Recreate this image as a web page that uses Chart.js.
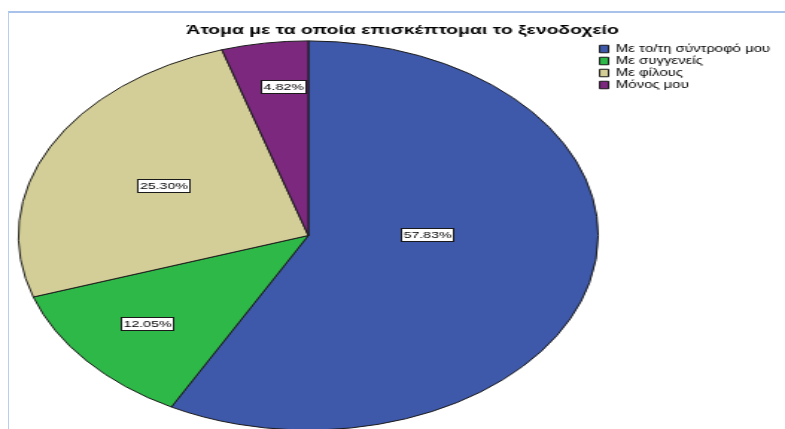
<!DOCTYPE html>
<html lang="el">
<head>
<meta charset="utf-8">
<title>Άτομα με τα οποία επισκέπτομαι το ξενοδοχείο</title>
<script src="https://cdn.jsdelivr.net/npm/chart.js@4/dist/chart.umd.min.js"></script>
<style>
  html, body { margin: 0; padding: 0; background: #ffffff; }
  #stage { position: relative; width: 785px; height: 429px; overflow: hidden; background: #ffffff; }
  /* viewer frame: thin blue rule along the top and the left side */
  #frame {
    position: absolute; left: 8px; top: 11px; right: 0; bottom: 0;
    border-top: 2px solid #a9c2ea; border-left: 1px solid #b9cdee;
  }
  /* the chart is laid out on a 527-unit wide canvas and widened to the page width */
  #chart { position: absolute; left: 0; top: 0; width: 785px; height: 429px; }
</style>
</head>
<body>
<div id="stage">
  <div id="frame"></div>
  <canvas id="chart" width="527" height="429" style="width:785px;height:429px"></canvas>
</div>
<script>
// Companions when visiting the hotel (percent of respondents)
const categories = ['Με το/τη σύντροφό μου', 'Με συγγενείς', 'Με φίλους', 'Μόνος μου'];
const percentages = [57.83, 12.05, 25.30, 4.82];
const sliceColors = ['#3e58aa', '#2eb848', '#d3ce97', '#7b287e'];
const chartTitle = 'Άτομα με τα οποία επισκέπτομαι το ξενοδοχείο';

// where each percentage box sits inside its slice:
// share of the slice's sweep, and share of the radius
const labelAlong = [0.428, 0.526, 0.5, 0.63];
const labelRadial = [0.409, 0.717, 0.56, 0.773];

const FONT = 'Arial, "Liberation Sans", sans-serif';
Chart.defaults.font.family = FONT;
Chart.defaults.color = '#000000';

// white boxed percentage labels drawn on top of the slices
const valueLabels = {
  id: 'valueLabels',
  afterDatasetsDraw(chart, args, opts) {
    const ctx = chart.ctx;
    const meta = chart.getDatasetMeta(0);
    const values = chart.data.datasets[0].data;
    ctx.save();
    ctx.font = opts.fontSize + 'px ' + FONT;
    ctx.textAlign = 'center';
    ctx.textBaseline = 'middle';
    ctx.lineWidth = 1;
    meta.data.forEach((arc, i) => {
      const p = arc.getProps(['x', 'y', 'startAngle', 'endAngle', 'outerRadius'], true);
      const a = p.startAngle + (p.endAngle - p.startAngle) * opts.along[i];
      const r = p.outerRadius * opts.radial[i];
      const cx = p.x + Math.cos(a) * r;
      const cy = p.y + Math.sin(a) * r;
      const text = values[i].toFixed(2) + '%';
      const w = Math.round(ctx.measureText(text).width + opts.padX * 2);
      const h = opts.boxHeight;
      const left = Math.round(cx - w / 2) + 0.5;
      const top = Math.round(cy - h / 2) + 0.5;
      ctx.fillStyle = '#ffffff';
      ctx.fillRect(left, top, w, h);
      ctx.strokeStyle = '#1a1a1a';
      ctx.strokeRect(left, top, w, h);
      ctx.fillStyle = '#000000';
      ctx.fillText(text, left + w / 2, top + h / 2 + 0.5);
    });
    ctx.restore();
  }
};

new Chart(document.getElementById('chart'), {
  type: 'pie',
  data: {
    labels: categories,
    datasets: [{
      data: percentages,
      backgroundColor: sliceColors,
      borderColor: '#1a1a1a',
      borderWidth: 1,
      hoverOffset: 0,
      radius: 194.6
    }]
  },
  options: {
    responsive: false,
    devicePixelRatio: 1,
    animation: false,
    events: [],
    layout: { padding: { left: 13.4, right: 0, top: 10, bottom: -3.6 } },
    plugins: {
      title: {
        display: true,
        text: chartTitle,
        color: '#000000',
        font: { size: 13, weight: 'bold', lineHeight: 1.2 },
        padding: { top: 12.3, bottom: 4.1 }
      },
      legend: {
        display: true,
        position: 'right',
        align: 'start',
        fullSize: false,
        maxWidth: 127.8,
        labels: {
          boxWidth: 6,
          boxHeight: 7.5,
          padding: 2,
          color: '#000000',
          font: { size: 10 }
        }
      },
      tooltip: { enabled: false },
      valueLabels: {
        along: labelAlong,
        radial: labelRadial,
        fontSize: 9.5,
        padX: 1.5,
        boxHeight: 13
      }
    }
  },
  plugins: [valueLabels]
});
</script>
</body>
</html>
